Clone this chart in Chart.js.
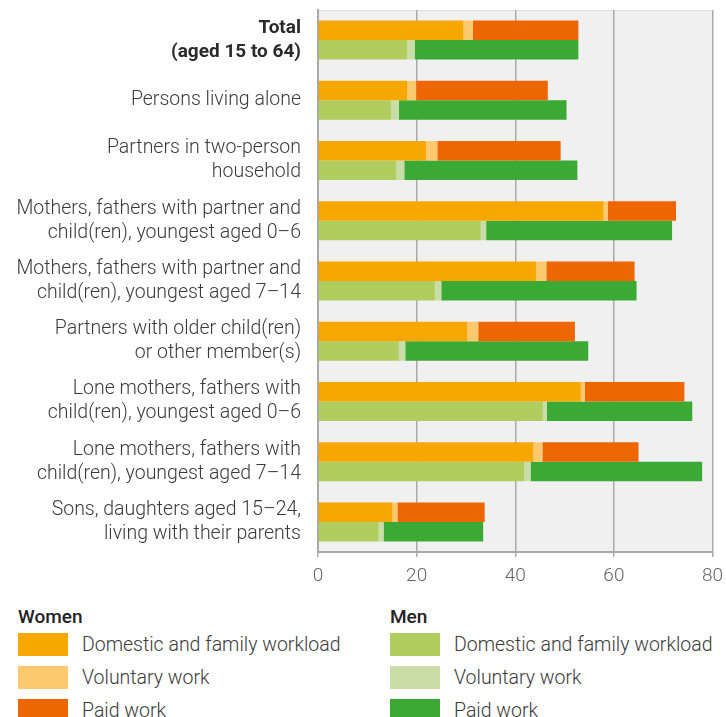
<!DOCTYPE html>
<html>
<head>
<meta charset="utf-8">
<script src="https://cdn.jsdelivr.net/npm/chart.js@4"></script>
<style>
  html, body { margin: 0; padding: 0; background: #fff; }
  body { width: 726px; height: 717px; position: relative; overflow: hidden; font-family: Roboto, "Noto Sans", sans-serif; }
  #wrap { position: absolute; left: 0; top: 0; width: 726px; height: 600px; }
  .lg { position: absolute; font-size: 19.5px; line-height: 24px; color: #3a3a3a; font-weight: 300; white-space: nowrap; }
  .lg.h { font-weight: 500; color: #222; font-size: 19px; }
  .sw { position: absolute; width: 50px; height: 23px; }
</style>
</head>
<body>
<div id="wrap"><canvas id="c"></canvas></div>
<div id="legend"></div>
<script>
const categories = [
  ["Total", "(aged 15 to 64)"],
  ["Persons living alone"],
  ["Partners in two-person", "household"],
  ["Mothers, fathers with partner and", "child(ren), youngest aged 0\u20136"],
  ["Mothers, fathers with partner and", "child(ren), youngest aged 7\u201314"],
  ["Partners with older child(ren)", "or other member(s)"],
  ["Lone mothers, fathers with", "child(ren), youngest aged 0\u20136"],
  ["Lone mothers, fathers with", "child(ren), youngest aged 7\u201314"],
  ["Sons, daughters aged 15\u201324,", "living with their parents"]
];
const womenDomestic  = [29.5, 18.1, 21.9, 57.9, 44.2, 30.3, 53.3, 43.7, 15.1];
const womenVoluntary = [1.9, 1.8, 2.3, 0.9, 2.1, 2.2, 0.8, 1.8, 1.0];
const womenPaid      = [21.4, 26.7, 25.0, 13.8, 17.9, 19.6, 20.2, 19.5, 17.7];
const menDomestic    = [18.1, 14.8, 15.9, 33.0, 23.7, 16.4, 45.6, 41.8, 12.3];
const menVoluntary   = [1.5, 1.6, 1.6, 1.1, 1.3, 1.3, 0.8, 1.3, 1.0];
const menPaid        = [33.2, 34.0, 35.1, 37.7, 39.6, 37.1, 29.5, 34.8, 20.2];
const xTicks = [0, 20, 40, 60, 80];
const seriesNames = ["Domestic and family workload", "Voluntary work", "Paid work"];
const womenColors = ["#f7a800", "#fdc86e", "#ee6600"];
const menColors = ["#b0cd60", "#c8dea6", "#3aaa35"];

const bgPlugin = {
  id: 'bg',
  beforeDraw(chart) {
    const {ctx, chartArea: a} = chart;
    ctx.save();
    ctx.fillStyle = '#f0f0f0';
    ctx.fillRect(a.left, a.top, a.right - a.left, a.bottom - a.top);
    ctx.strokeStyle = '#dcdcdc';
    ctx.lineWidth = 1;
    ctx.beginPath();
    ctx.moveTo(a.left, a.top + 0.5);
    ctx.lineTo(a.right, a.top + 0.5);
    ctx.stroke();
    ctx.restore();
  }
};

const mk = (label, data, color, stack) => ({
  label, data, backgroundColor: color, stack, borderWidth: 0,
  categoryPercentage: 0.648, barPercentage: 1.0
});

new Chart(document.getElementById('c'), {
  type: 'bar',
  data: {
    labels: categories,
    datasets: [
      mk('Women ' + seriesNames[0], womenDomestic, womenColors[0], 'women'),
      mk('Women ' + seriesNames[1], womenVoluntary, womenColors[1], 'women'),
      mk('Women ' + seriesNames[2], womenPaid, womenColors[2], 'women'),
      mk('Men ' + seriesNames[0], menDomestic, menColors[0], 'men'),
      mk('Men ' + seriesNames[1], menVoluntary, menColors[1], 'men'),
      mk('Men ' + seriesNames[2], menPaid, menColors[2], 'men')
    ]
  },
  options: {
    indexAxis: 'y',
    responsive: true,
    maintainAspectRatio: false,
    animation: false,
    layout: { padding: { top: 10, right: 13.5, bottom: 0, left: 0 } },
    plugins: { legend: { display: false }, tooltip: { enabled: false } },
    scales: {
      x: {
        stacked: true,
        min: 0, max: 80,
        afterBuildTicks(scale) { scale.ticks = xTicks.map(v => ({ value: v })); },
        afterFit(scale) { scale.height = 48; scale.paddingLeft = 0; scale.paddingRight = 0; },
        grid: { color: '#a9a9a9', lineWidth: 1.5, tickLength: 5, tickColor: '#a9a9a9' },
        border: { display: true, color: '#a9a9a9', width: 2 },
        ticks: { color: '#666', padding: 8, font: { family: 'Roboto', size: 19, weight: 300 } }
      },
      y: {
        stacked: true,
        afterFit(scale) { scale.width = 318; scale.paddingTop = 0; scale.paddingBottom = 0; },
        grid: { display: false, drawTicks: false },
        border: { display: true, color: '#a9a9a9', width: 2 },
        ticks: {
          padding: 17,
          autoSkip: false,
          color: (ctx) => ctx.index === 0 ? '#2a2a2a' : '#3a3a3a',
          font: (ctx) => ({ family: 'Roboto', size: ctx.index === 0 ? 19 : 19.5, weight: ctx.index === 0 ? 'bold' : 300, lineHeight: ctx.index === 0 ? 1.26 : 1.23 })
        }
      }
    }
  },
  plugins: [bgPlugin]
});

// legend (HTML)
const lg = document.getElementById('legend');
function addText(txt, x, y, cls) {
  const d = document.createElement('div');
  d.className = 'lg' + (cls ? ' ' + cls : '');
  d.textContent = txt; d.style.left = x + 'px'; d.style.top = y + 'px';
  lg.appendChild(d);
}
function addSw(color, x, y) {
  const d = document.createElement('div');
  d.className = 'sw'; d.style.background = color;
  d.style.left = x + 'px'; d.style.top = y + 'px';
  lg.appendChild(d);
}
const cols = [{ title: 'Women', x: 18, colors: womenColors }, { title: 'Men', x: 390, colors: menColors }];
cols.forEach(c => {
  addText(c.title, c.x, 605, 'h');
  seriesNames.forEach((n, i) => {
    addSw(c.colors[i], c.x, 633 + i * 33);
    addText(n, c.x + 64, 633 + i * 33);
  });
});
</script>
</body>
</html>
